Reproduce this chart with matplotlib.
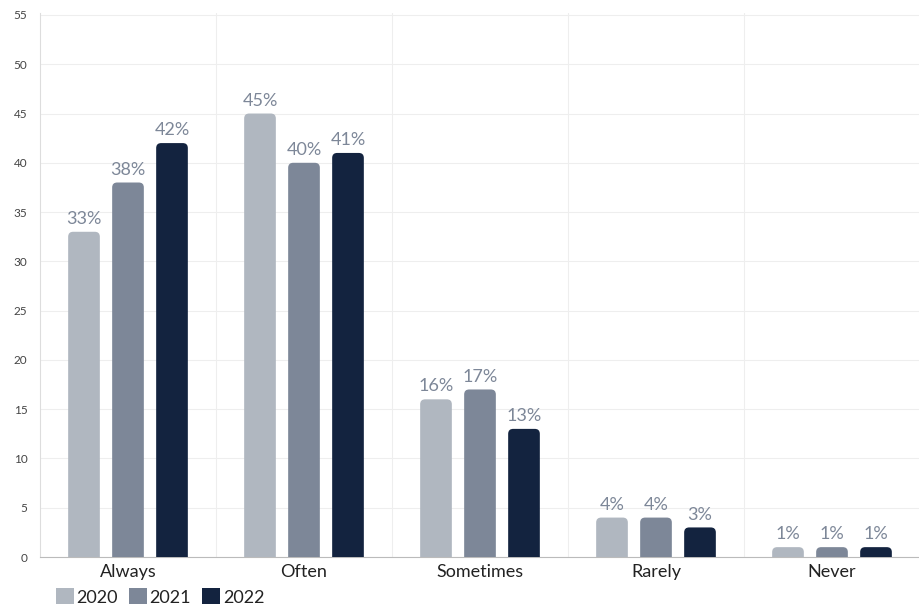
import matplotlib.pyplot as plt
from matplotlib.patches import PathPatch, Patch
from matplotlib.path import Path
import numpy as np

categories = ["Always", "Often", "Sometimes", "Rarely", "Never"]
years = ["2020", "2021", "2022"]
v2020 = [33, 45, 16, 4, 1]
v2021 = [38, 40, 17, 4, 1]
v2022 = [42, 41, 13, 3, 1]
colors = ["#B0B7C0", "#7D8798", "#13233F"]

plt.rcParams["font.family"] = ["Lato", "DejaVu Sans"]

fig = plt.figure(figsize=(9.2, 6.12), dpi=100)
ax = fig.add_axes([40 / 920, 1 - 557 / 612, 880 / 920, 544 / 612])
ax.set_xlim(-0.5, 4.5)
ax.set_ylim(0, 55.2)

x = np.arange(len(categories))
width = 0.18
step = 0.25
# corner radius of ~5 px, in data units
rx = 5 / 176
ry = 5 / (544 / 55.2)


def top_rounded(left, w, h):
    right = left + w
    ryy = min(ry, h / 2)
    verts = [(left, 0), (left, h - ryy), (left, h), (left + rx, h),
             (right - rx, h), (right, h), (right, h - ryy), (right, 0), (left, 0)]
    codes = [Path.MOVETO, Path.LINETO, Path.CURVE3, Path.CURVE3,
             Path.LINETO, Path.CURVE3, Path.CURVE3, Path.LINETO, Path.CLOSEPOLY]
    return Path(verts, codes)


for i, (vals, col) in enumerate(zip([v2020, v2021, v2022], colors)):
    for xi, v in zip(x, vals):
        left = xi + (i - 1) * step - width / 2
        ax.add_patch(PathPatch(top_rounded(left, width, v), fc=col, ec="none", zorder=3))
        ax.text(xi + (i - 1) * step, v + 0.5, "%d%%" % v, ha="center", va="bottom",
                fontsize=13, color="#7D8798", zorder=4)

ax.set_yticks(range(0, 56, 5))
ax.tick_params(axis="y", labelsize=8.5, colors="#444444", length=0, pad=9)
ax.set_xticks(x)
ax.set_xticklabels(categories, fontsize=13, color="#222222")
ax.tick_params(axis="x", length=0, pad=5)
ax.grid(axis="y", color="#EEEEEE", lw=0.8, zorder=0)
for b in np.arange(0.5, 4.5, 1):
    ax.axvline(b, color="#EEEEEE", lw=0.8, zorder=0)
for s in ["top", "right"]:
    ax.spines[s].set_visible(False)
ax.spines["left"].set_color("#DDDDDD")
ax.spines["bottom"].set_color("#BBBBBB")

handles = [Patch(fc=c, ec="none", label=y) for c, y in zip(colors, years)]
fig.legend(handles=handles, loc="lower left", bbox_to_anchor=(0.043, -0.016), ncol=3,
           frameon=False, fontsize=13, handlelength=1.0, handleheight=1.0,
           handletextpad=0.15, columnspacing=0.6, labelcolor="#222222")

fig.savefig("out.png", dpi=100)
